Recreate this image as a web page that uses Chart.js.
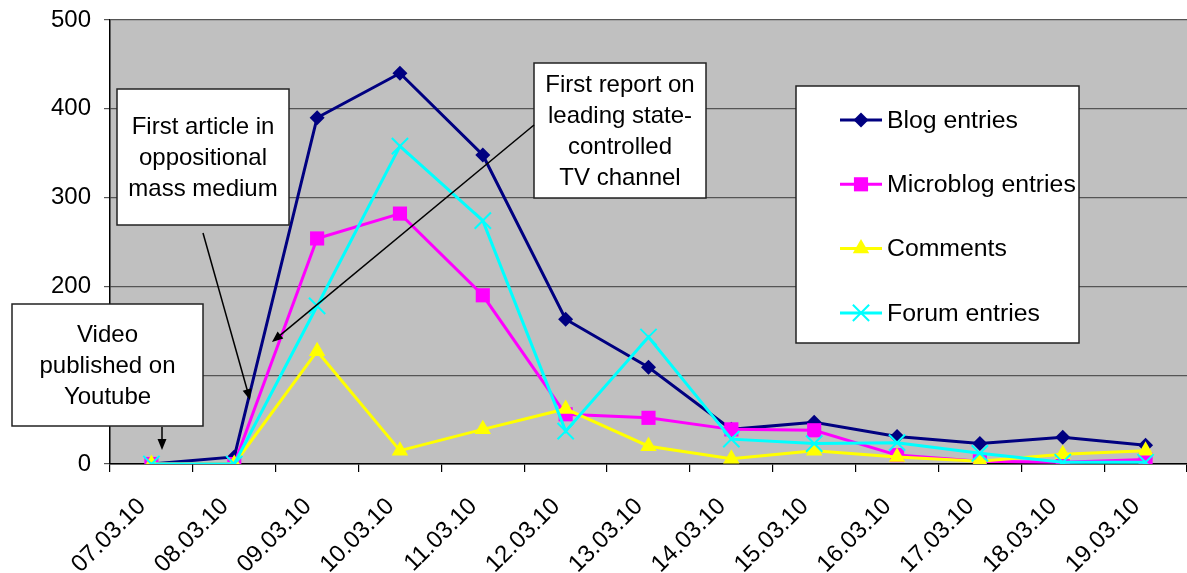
<!DOCTYPE html>
<html>
<head>
<meta charset="utf-8">
<script src="https://cdn.jsdelivr.net/npm/chart.js"></script>
<style>
  html, body { margin: 0; padding: 0; background: #fff; }
  #wrap { width: 1187px; height: 573px; position: relative; }
</style>
</head>
<body>
<div id="wrap"><canvas id="chart"></canvas></div>
<script>
const categories = ["07.03.10", "08.03.10", "09.03.10", "10.03.10", "11.03.10", "12.03.10", "13.03.10",
    "14.03.10", "15.03.10", "16.03.10", "17.03.10", "18.03.10", "19.03.10"];
const blogEntries = [0, 8, 390, 440, 348, 163, 109, 39, 47, 31, 23, 30, 21];
const microblogEntries = [0, 0, 254, 282, 190, 56, 52, 39, 38, 10, 3, 2, 5];
const comments = [0, 0, 127, 15, 39, 62, 20, 6, 15, 8, 3, 11, 15];
const forumEntries = [0, 0, 178, 358, 274, 37, 143, 28, 23, 24, 12, 2, 2];
const yTicks = [0, 100, 200, 300, 400, 500];

const FONT = "'Liberation Sans', Arial, sans-serif";

// text boxes with arrows (canvas pixels)
const notes = [
    { lines: ["Video", "published on", "Youtube"], box: [12, 304, 203, 426], from: [162, 427], to: [162, 450] },
    { lines: ["First article in", "oppositional", "mass medium"], box: [117, 89, 289, 225], from: [203, 233], to: [250, 400] },
    { lines: ["First report on", "leading state-", "controlled", "TV channel"], box: [534, 63, 706, 198], from: [534, 125], to: [272, 342] },
];

function marker(ctx, style, x, y, r, color) {
    ctx.save();
    ctx.fillStyle = color;
    ctx.strokeStyle = color;
    ctx.beginPath();
    if (style === "rectRot") {
        ctx.moveTo(x, y - r); ctx.lineTo(x + r, y); ctx.lineTo(x, y + r); ctx.lineTo(x - r, y);
        ctx.closePath(); ctx.fill();
    } else if (style === "rect") {
        const s = r * Math.SQRT1_2;
        ctx.rect(x - s, y - s, 2 * s, 2 * s); ctx.fill();
    } else if (style === "triangle") {
        const e = r * 3 / Math.sqrt(3), h = e * Math.sqrt(3) / 2;
        ctx.moveTo(x - e / 2, y + h / 3); ctx.lineTo(x + e / 2, y + h / 3); ctx.lineTo(x, y - 2 * h / 3);
        ctx.closePath(); ctx.fill();
    } else {
        const o = r * Math.SQRT1_2;
        ctx.lineWidth = 2;
        ctx.moveTo(x - o, y - o); ctx.lineTo(x + o, y + o);
        ctx.moveTo(x + o, y - o); ctx.lineTo(x - o, y + o);
        ctx.stroke();
    }
    ctx.restore();
}

const decor = {
    id: "decor",
    beforeDraw(chart) {
        const { ctx, chartArea: a } = chart;
        ctx.save();
        ctx.fillStyle = "#c0c0c0";
        ctx.fillRect(a.left, a.top, a.right - a.left, a.bottom - a.top);
        ctx.restore();
    },
    afterDatasetsDraw(chart) {
        const ctx = chart.ctx;
        ctx.save();
        ctx.font = "24px " + FONT;
        ctx.textAlign = "center";
        ctx.textBaseline = "middle";
        notes.forEach(n => {
            const [x1, y1, x2, y2] = n.box;
            ctx.fillStyle = "#fff";
            ctx.fillRect(x1, y1, x2 - x1, y2 - y1);
            ctx.strokeStyle = "#222";
            ctx.lineWidth = 1.5;
            ctx.strokeRect(x1, y1, x2 - x1, y2 - y1);
            ctx.fillStyle = "#000";
            const cx = (x1 + x2) / 2, cy = (y1 + y2) / 2;
            n.lines.forEach((t, i) => ctx.fillText(t, cx, cy + (i - (n.lines.length - 1) / 2) * 31 + 1));
            // arrow
            const [fx, fy] = n.from, [tx, ty] = n.to;
            const ang = Math.atan2(ty - fy, tx - fx);
            ctx.strokeStyle = "#000";
            ctx.lineWidth = 1.5;
            ctx.beginPath();
            ctx.moveTo(fx, fy);
            ctx.lineTo(tx - 8 * Math.cos(ang), ty - 8 * Math.sin(ang));
            ctx.stroke();
            ctx.fillStyle = "#000";
            ctx.beginPath();
            ctx.moveTo(tx, ty);
            ctx.lineTo(tx - 11 * Math.cos(ang) + 4.5 * Math.sin(ang), ty - 11 * Math.sin(ang) - 4.5 * Math.cos(ang));
            ctx.lineTo(tx - 11 * Math.cos(ang) - 4.5 * Math.sin(ang), ty - 11 * Math.sin(ang) + 4.5 * Math.cos(ang));
            ctx.closePath();
            ctx.fill();
        });

        // legend box
        const lx1 = 796, ly1 = 86, lx2 = 1079, ly2 = 343;
        ctx.fillStyle = "#fff";
        ctx.fillRect(lx1, ly1, lx2 - lx1, ly2 - ly1);
        ctx.strokeStyle = "#222";
        ctx.lineWidth = 1.5;
        ctx.strokeRect(lx1, ly1, lx2 - lx1, ly2 - ly1);
        ctx.textAlign = "left";
        ctx.font = "24.8px " + FONT;
        chart.data.datasets.forEach((ds, i) => {
            const y = 120 + i * 64.3;
            ctx.strokeStyle = ds.borderColor;
            ctx.lineWidth = 3;
            ctx.beginPath();
            ctx.moveTo(840, y); ctx.lineTo(882, y);
            ctx.stroke();
            marker(ctx, ds.pointStyle, 861, y, ds.pointRadius, ds.borderColor);
            ctx.fillStyle = "#000";
            ctx.fillText(ds.label, 887, y + 1);
        });
        ctx.restore();
    }
};

function series(label, data, color, style, radius, order) {
    return {
        label: label,
        data: data,
        borderColor: color,
        backgroundColor: color,
        pointBackgroundColor: color,
        pointBorderColor: color,
        borderWidth: 3,
        pointStyle: style,
        pointRadius: radius,
        pointBorderWidth: style === "crossRot" ? 2 : 0,
        tension: 0,
        order: order,
    };
}

new Chart(document.getElementById("chart"), {
    type: "line",
    data: {
        labels: categories,
        datasets: [
            series("Blog entries", blogEntries, "#000080", "rectRot", 7.5, 4),
            series("Microblog entries", microblogEntries, "#ff00ff", "rect", 10, 3),
            series("Comments", comments, "#ffff00", "triangle", 9.5, 2),
            series("Forum entries", forumEntries, "#00ffff", "crossRot", 11.5, 1),
        ]
    },
    options: {
        responsive: true,
        maintainAspectRatio: false,
        animation: false,
        layout: { autoPadding: false, padding: { top: 20, right: 0, left: 0, bottom: 0 } },
        scales: {
            x: {
                offset: true,
                grid: { offset: true, drawOnChartArea: false, drawTicks: true, tickLength: 8, color: "#000", lineWidth: 1.2 },
                border: { color: "#000", width: 1.5 },
                ticks: {
                    minRotation: 45,
                    maxRotation: 45,
                    padding: 11,
                    font: { family: FONT, size: 24 },
                    color: "#000",
                    // trailing spaces push the rotated text down-left like the original
                    callback: (v, i) => categories[i] + "  ",
                },
                afterFit: (s) => { s.height = 109; s.paddingLeft = 0; s.paddingRight = 0; },
            },
            y: {
                min: 0,
                max: 500,
                afterBuildTicks: (s) => { s.ticks = yTicks.map(v => ({ value: v })); },
                grid: { color: "#555", lineWidth: 1.2, tickLength: 6 },
                border: { color: "#000", width: 1.5 },
                ticks: {
                    padding: 13,
                    font: { family: FONT, size: 24 },
                    color: "#000",
                },
                afterFit: (s) => { s.width = 110; s.paddingTop = 0; s.paddingBottom = 0; },
            },
        },
        plugins: {
            legend: { display: false },
            tooltip: { enabled: false },
        }
    },
    plugins: [decor]
});
</script>
</body>
</html>
